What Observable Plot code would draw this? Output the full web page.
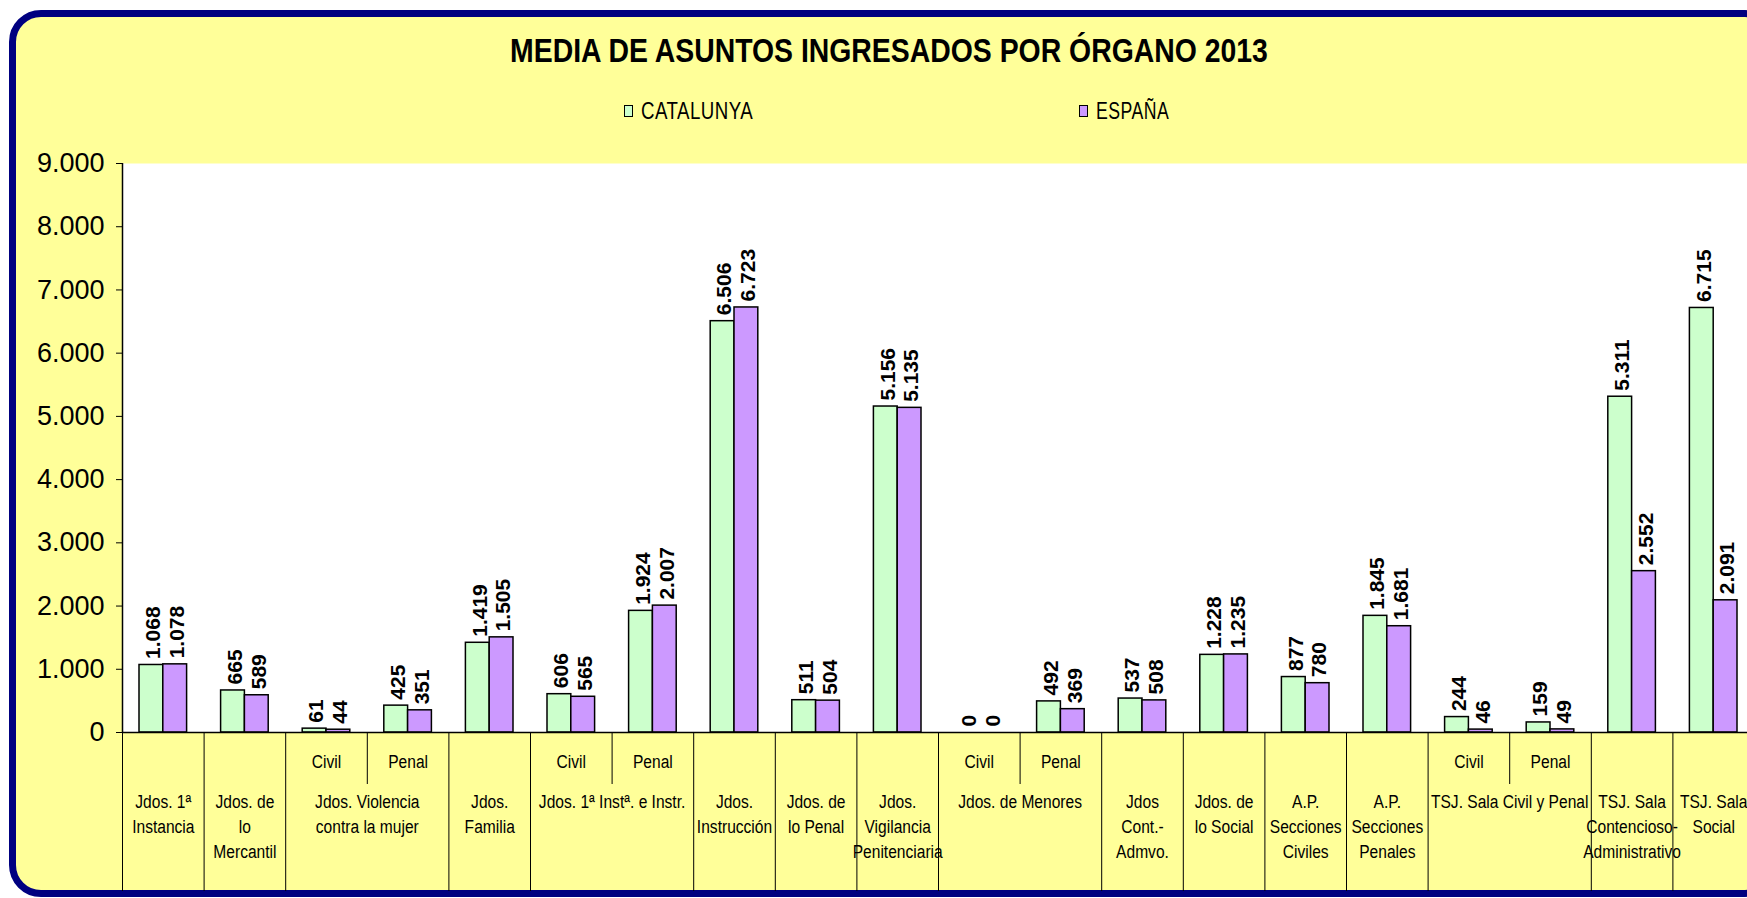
<!DOCTYPE html>
<html>
<head>
<meta charset="utf-8">
<script src="https://cdn.jsdelivr.net/npm/d3@7"></script>
<script src="https://cdn.jsdelivr.net/npm/@observablehq/plot@0.6"></script>
<style>
  html, body { margin: 0; padding: 0; background: #ffffff; width: 1747px; height: 898px; overflow: hidden; }
  #frame { position: absolute; left: 9px; top: 10px; width: 1768px; height: 887px; box-sizing: border-box;
           border: 7px solid #000080; border-radius: 32px; background: #FFFF99; }
  #title { position: absolute; left: 889px; top: 51px; white-space: nowrap; transform-origin: center center;
           font-family: "Liberation Sans", Arial, sans-serif; font-weight: bold; font-size: 33px; color: #000; }
  .leg { position: absolute; white-space: nowrap; font-family: "Liberation Sans", Arial, sans-serif;
         font-size: 23px; letter-spacing: 0.6px; color: #000; line-height: 23px; transform-origin: left center; }
  .sw { position: absolute; width: 7px; height: 10px; border: 1.5px solid #000; }
  #chart { position: absolute; left: 0; top: 140px; width: 1762px; }
  #chart svg { max-width: none; }
</style>
</head>
<body>
<div id="frame"></div>
<div id="title">MEDIA DE ASUNTOS INGRESADOS POR ÓRGANO 2013</div>
<div id="legend"></div>
<div id="chart"></div>
<script>
// ---------- data ----------
const categories = [
  "Jdos. 1ª Instancia", "Jdos. de lo Mercantil", "Violencia Civil", "Violencia Penal", "Jdos. Familia",
  "1ª Inst. e Instr. Civil", "1ª Inst. e Instr. Penal", "Jdos. Instrucción", "Jdos. de lo Penal",
  "Jdos. Vigilancia Penitenciaria", "Menores Civil", "Menores Penal", "Jdos Cont.-Admvo.", "Jdos. de lo Social",
  "A.P. Secciones Civiles", "A.P. Secciones Penales", "TSJ Civil", "TSJ Penal",
  "TSJ. Sala Contencioso-Administrativo", "TSJ. Sala Social"
];
const catalunya = [1068, 665, 61, 425, 1419, 606, 1924, 6506, 511, 5156, 0, 492, 537, 1228, 877, 1845, 244, 159, 5311, 6715];
const espana    = [1078, 589, 44, 351, 1505, 565, 2007, 6723, 504, 5135, 0, 369, 508, 1235, 780, 1681, 46, 49, 2552, 2091];
const seriesNames = ["CATALUNYA", "ESPAÑA"];
const seriesColors = ["#CCFFCC", "#CC99FF"];
const yTicks = [0, 1000, 2000, 3000, 4000, 5000, 6000, 7000, 8000, 9000];

const subLabels = [null, null, "Civil", "Penal", null, "Civil", "Penal", null, null, null,
                   "Civil", "Penal", null, null, null, null, "Civil", "Penal", null, null];
const groupLabels = [
  "Jdos. 1ª\nInstancia", "Jdos. de\nlo\nMercantil", "Jdos. Violencia\ncontra la mujer", "Jdos.\nFamilia",
  "Jdos. 1ª Instª. e Instr.", "Jdos.\nInstrucción", "Jdos. de\nlo Penal", "Jdos.\nVigilancia\nPenitenciaria",
  "Jdos. de Menores", "Jdos\nCont.-\nAdmvo.", "Jdos. de\nlo Social", "A.P.\nSecciones\nCiviles",
  "A.P.\nSecciones\nPenales", "TSJ. Sala Civil y Penal", "TSJ. Sala\nContencioso-\nAdministrativo", "TSJ. Sala\nSocial"
];
const groupStart = [0, 1, 2, 4, 5, 7, 8, 9, 10, 12, 13, 14, 15, 16, 18, 19];
const groupSpan  = [1, 1, 2, 1, 2, 1, 1, 1, 2, 1, 1, 1, 1, 2, 1, 1];

// ---------- helpers ----------
const loc = d3.formatLocale({decimal: ",", thousands: ".", grouping: [3], currency: ["", "€"]});
const fmt = loc.format(",d");

const rowsCat = categories.map((c, i) => ({cat: c, value: catalunya[i]}));
const rowsEsp = categories.map((c, i) => ({cat: c, value: espana[i]}));
const subRows = categories.map((c, i) => ({cat: c, text: subLabels[i]})).filter(d => d.text);
const groups = groupLabels.map((t, k) => ({cat: categories[groupStart[k]], text: t, span: groupSpan[k],
                                            second: categories[groupStart[k] + 1]}));

// ---------- layout ----------
const W = 1762, H = 758, mL = 122, mR = 8, mT = 23, mB = 166;
const step = (W - mL - mR) / categories.length;
const half = step / 2;
const outer = 17;
const labelShift = (outer - half) / 2;
const baseFont = "Liberation Sans, Arial, sans-serif";
const narrow = 0.82;   // horizontal condensing of the category labels

// ---------- title & legend ----------
const title = document.getElementById("title");
const tw = title.offsetWidth;
title.style.transform = `translate(-50%, -50%) scaleX(${758 / tw})`;

const legend = document.getElementById("legend");
const legendPos = [624, 1079];
const legendTextWidth = [112, 73];
seriesNames.forEach((name, i) => {
  const sw = document.createElement("div");
  sw.className = "sw";
  sw.style.left = legendPos[i] + "px";
  sw.style.top = "105px";
  sw.style.background = seriesColors[i];
  legend.appendChild(sw);
  const tx = document.createElement("div");
  tx.className = "leg";
  tx.style.left = (legendPos[i] + 17) + "px";
  tx.style.top = "100px";
  tx.textContent = name;
  legend.appendChild(tx);
  tx.style.transform = `scaleX(${legendTextWidth[i] / tx.offsetWidth})`;
});

// ---------- chart ----------
const chart = Plot.plot({
  width: W, height: H,
  marginLeft: mL, marginRight: mR, marginTop: mT, marginBottom: mB,
  style: {background: "transparent", fontFamily: baseFont, fontSize: "27px", color: "black", overflow: "visible", maxWidth: "none"},
  x: {type: "band", domain: categories, padding: 0, round: false, axis: null},
  y: {domain: [0, 9000], ticks: yTicks, tickFormat: fmt, tickSize: 6, tickPadding: 12, label: null},
  marks: [
    Plot.frame({fill: "white", stroke: null}),
    Plot.barY(rowsCat, {x: "cat", y: "value", fill: seriesColors[0], stroke: "black", strokeWidth: 1.5,
                        insetLeft: outer, insetRight: half}),
    Plot.barY(rowsEsp, {x: "cat", y: "value", fill: seriesColors[1], stroke: "black", strokeWidth: 1.5,
                        insetLeft: half, insetRight: outer}),
    Plot.ruleY([0], {stroke: "black", strokeWidth: 1.5}),
    Plot.ruleX([categories[0]], {x: d => d, y1: () => 0, y2: () => 9000, dx: -half, stroke: "black", strokeWidth: 1.5}),
    // category dividers below the axis
    Plot.ruleX(groups, {x: "cat", y1: () => 0, y2: () => 0, dx: -half, insetBottom: -159, stroke: "black", strokeWidth: 1}),
    Plot.ruleX([categories[categories.length - 1]], {x: d => d, y1: () => 0, y2: () => 0, dx: half, insetBottom: -159, stroke: "black", strokeWidth: 1}),
    Plot.ruleX(groups.filter(g => g.span === 2), {x: "second", y1: () => 0, y2: () => 0, dx: -half, insetBottom: -52, stroke: "black", strokeWidth: 1}),
    // value labels
    Plot.text(rowsCat, {x: "cat", y: "value", text: d => fmt(d.value), rotate: -90, textAnchor: "start",
                        lineAnchor: "middle", dx: labelShift + 2, dy: -6, fontWeight: "bold", fontSize: 21, fontFamily: baseFont}),
    Plot.text(rowsEsp, {x: "cat", y: "value", text: d => fmt(d.value), rotate: -90, textAnchor: "start",
                        lineAnchor: "middle", dx: -labelShift + 2, dy: -6, fontWeight: "bold", fontSize: 21, fontFamily: baseFont}),
    // category labels
    Plot.text(subRows, {x: "cat", text: "text", frameAnchor: "bottom", dy: 29, lineAnchor: "middle",
                        fontSize: 19, fontFamily: baseFont}),
    Plot.text(groups.filter(g => g.span === 1), {x: "cat", text: "text", frameAnchor: "bottom", dy: 58, lineAnchor: "top",
                        lineHeight: 1.32, fontSize: 19, fontFamily: baseFont}),
    Plot.text(groups.filter(g => g.span === 2), {x: "cat", text: "text", frameAnchor: "bottom", dy: 58, lineAnchor: "top",
                        dx: half, lineHeight: 1.32, fontSize: 19, fontFamily: baseFont})
  ]
});
// condense the category label text horizontally around each label's anchor (narrow face look)
const textGroups = chart.querySelectorAll('g[aria-label="text"]');
Array.from(textGroups).slice(-3).forEach(g => {
  g.querySelectorAll("text").forEach(t => {
    t.setAttribute("transform", (t.getAttribute("transform") || "") + ` scale(${narrow},1)`);
  });
});
document.getElementById("chart").appendChild(chart);
</script>
</body>
</html>
